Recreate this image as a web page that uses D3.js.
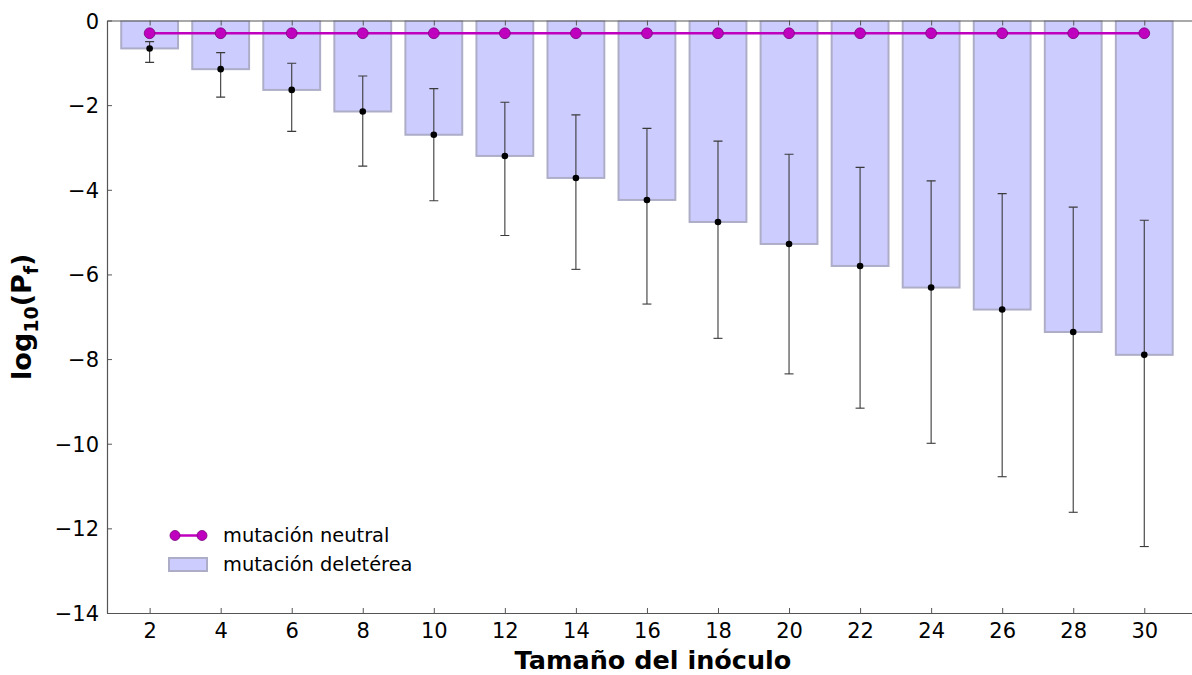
<!DOCTYPE html>
<html>
<head>
<meta charset="utf-8">
<script src="https://cdn.jsdelivr.net/npm/d3@7"></script>
<style>
  html, body { margin: 0; padding: 0; background: #fff; }
  svg { display: block; font-family: "DejaVu Sans", sans-serif; }
</style>
</head>
<body>
<svg id="chart" width="1192" height="675"></svg>
<script>
// Inoculum sizes
const inoculum = [2, 4, 6, 8, 10, 12, 14, 16, 18, 20, 22, 24, 26, 28, 30];
// log10 of fixation probability, neutral mutation
const neutral = [-0.301, -0.301, -0.301, -0.301, -0.301, -0.301, -0.301, -0.301, -0.301, -0.301, -0.301, -0.301, -0.301, -0.301, -0.301];
// log10 of fixation probability, deleterious mutation (mean)
const deleterious = [-0.66, -1.15, -1.64, -2.15, -2.70, -3.20, -3.72, -4.24, -4.76, -5.28, -5.80, -6.31, -6.83, -7.36, -7.90];
// error bar ends
const errHigh = [-0.50, -0.76, -1.01, -1.31, -1.61, -1.93, -2.23, -2.55, -2.85, -3.16, -3.47, -3.79, -4.09, -4.41, -4.72];
const errLow = [-0.99, -1.81, -2.62, -3.44, -4.26, -5.08, -5.88, -6.70, -7.51, -8.35, -9.16, -9.99, -10.78, -11.62, -12.43];
const yTicks = [0, -2, -4, -6, -8, -10, -12, -14];
const xTicks = inoculum;

const svg = d3.select("#chart");
const mLeft = 107, mTop = 20.5, mBottom = 613, mRight = 1194;

const x = d3.scaleLinear().domain([0.8, 31.4]).range([mLeft, mRight]);
const y = d3.scaleLinear().domain([-14, 0]).range([mBottom, mTop]);
const barW = x(1.6) - x(0);

svg.append("clipPath").attr("id", "plotclip")
  .append("rect").attr("x", mLeft).attr("y", mTop).attr("width", mRight - mLeft).attr("height", mBottom - mTop);

const plot = svg.append("g").attr("clip-path", "url(#plotclip)");

// bars
plot.selectAll("rect.bar").data(inoculum).join("rect")
  .attr("class", "bar")
  .attr("x", (d) => x(d) - barW / 2)
  .attr("y", y(0))
  .attr("width", barW)
  .attr("height", (d, i) => y(deleterious[i]) - y(0))
  .attr("fill", "#ccccff")
  .attr("stroke", "#adadc8")
  .attr("stroke-width", 2);

// error bars
const eb = plot.append("g").attr("stroke", "#3a3a3a").attr("stroke-width", 1.1);
inoculum.forEach((d, i) => {
  const cx = x(d);
  eb.append("line").attr("x1", cx).attr("x2", cx).attr("y1", y(errHigh[i])).attr("y2", y(errLow[i]));
  eb.append("line").attr("x1", cx - 4.5).attr("x2", cx + 4.5).attr("y1", y(errHigh[i])).attr("y2", y(errHigh[i]));
  eb.append("line").attr("x1", cx - 4.5).attr("x2", cx + 4.5).attr("y1", y(errLow[i])).attr("y2", y(errLow[i]));
});
plot.selectAll("circle.del").data(inoculum).join("circle")
  .attr("class", "del")
  .attr("cx", (d) => x(d))
  .attr("cy", (d, i) => y(deleterious[i]))
  .attr("r", 3.3)
  .attr("fill", "#000");

// neutral line
const line = d3.line().x((d) => x(d)).y((d, i) => y(neutral[i]));
plot.append("path").datum(inoculum)
  .attr("d", line)
  .attr("fill", "none")
  .attr("stroke", "#bf00bf")
  .attr("stroke-width", 2.5);
plot.selectAll("circle.neu").data(inoculum).join("circle")
  .attr("class", "neu")
  .attr("cx", (d) => x(d))
  .attr("cy", (d, i) => y(neutral[i]))
  .attr("r", 5.4)
  .attr("fill", "#bf00bf")
  .attr("stroke", "#7a007a")
  .attr("stroke-width", 0.8);

// axes (ticks point inward)
const axisColor = "#555";
const xb = svg.append("g").attr("transform", `translate(0,${mBottom})`)
  .call(d3.axisBottom(x).tickValues(xTicks).tickSizeInner(-5).tickSizeOuter(0).tickPadding(10).tickFormat(d3.format("d")));
const xt = svg.append("g").attr("transform", `translate(0,${mTop})`)
  .call(d3.axisTop(x).tickValues(xTicks).tickSizeInner(-5).tickSizeOuter(0).tickFormat(""));
const yl = svg.append("g").attr("transform", `translate(${mLeft},0)`)
  .call(d3.axisLeft(y).tickValues(yTicks).tickSizeInner(-5).tickSizeOuter(0).tickPadding(8)
    .tickFormat((d) => d < 0 ? "\u2212" + Math.abs(d) : String(d)));
[xb, xt, yl].forEach((g) => {
  g.select(".domain").attr("stroke", axisColor).attr("stroke-width", 1.2);
  g.selectAll(".tick line").attr("stroke", axisColor).attr("stroke-width", 1);
  g.selectAll(".tick text").attr("fill", "#000").style("font-size", "21px").style("font-family", "DejaVu Sans");
});
yl.selectAll(".tick text").attr("dy", "0.36em");

// axis titles
svg.append("text")
  .attr("x", 653)
  .attr("y", 669)
  .attr("text-anchor", "middle")
  .style("font-size", "25.5px").style("font-weight", "bold")
  .text("Tamaño del inóculo");

const yt = svg.append("text")
  .attr("transform", `translate(31,${(mTop + mBottom) / 2}) rotate(-90)`)
  .attr("text-anchor", "middle")
  .style("font-size", "27px").style("font-weight", "bold");
yt.append("tspan").text("log");
yt.append("tspan").attr("dy", 7).style("font-size", "19px").text("10");
yt.append("tspan").attr("dy", -7).text("(P");
yt.append("tspan").attr("dy", 7).style("font-size", "19px").text("f");
yt.append("tspan").attr("dy", -7).text(")");

// legend
const lg = svg.append("g");
lg.append("line").attr("x1", 175).attr("x2", 202).attr("y1", 535.5).attr("y2", 535.5)
  .attr("stroke", "#bf00bf").attr("stroke-width", 2.5);
[175, 202].forEach((cx) => lg.append("circle").attr("cx", cx).attr("cy", 535.5).attr("r", 5)
  .attr("fill", "#bf00bf").attr("stroke", "#7a007a").attr("stroke-width", 0.8));
lg.append("rect").attr("x", 169).attr("y", 558).attr("width", 38).attr("height", 13)
  .attr("fill", "#ccccff").attr("stroke", "#adadc8").attr("stroke-width", 2);
lg.append("text").attr("x", 223).attr("y", 542).style("font-size", "19.4px").text("mutación neutral");
lg.append("text").attr("x", 223).attr("y", 571).style("font-size", "19.4px").text("mutación deletérea");
</script>
</body>
</html>
